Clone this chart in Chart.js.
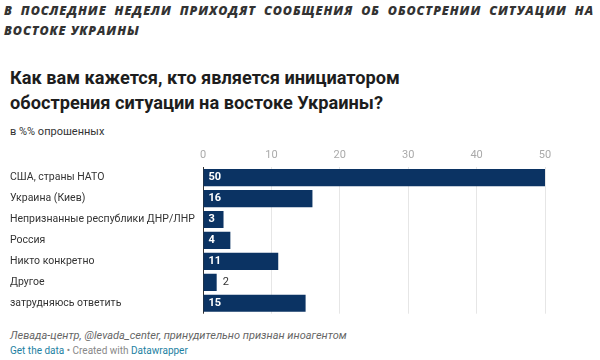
<!DOCTYPE html>
<html>
<head>
<meta charset="utf-8">
<script src="https://cdn.jsdelivr.net/npm/chart.js@4/dist/chart.umd.min.js"></script>
<style>
  body { margin: 0; width: 600px; height: 360px; background: #fff; overflow: hidden; font-family: Roboto, sans-serif; }
  .head { position: absolute; left: 4px; width: 590px; font-family: "Open Sans", sans-serif; font-weight: 800; font-style: italic; font-size: 12.5px; letter-spacing: 0.9px; color: #333; }
  .l1 { top: 2px; text-align: justify; text-align-last: justify; }
  .l2 { top: 22px; }
  .title { position: absolute; left: 10px; top: 65px; font-size: 18.2px; font-weight: bold; line-height: 25px; color: #1d1d1d; }
  .sub { position: absolute; left: 10px; top: 125px; font-size: 11px; color: #333; }
  .chartbox { position: absolute; left: 0; top: 140px; width: 600px; height: 180px; }
  .src { position: absolute; left: 10px; top: 329px; font-size: 11px; font-style: italic; color: #666; }
  .credit { position: absolute; left: 10px; top: 345px; font-size: 10px; color: #888; }
  .credit span { color: #1d81a2; }
</style>
</head>
<body>
<div class="head l1">В ПОСЛЕДНИЕ НЕДЕЛИ ПРИХОДЯТ СООБЩЕНИЯ ОБ ОБОСТРЕНИИ СИТУАЦИИ НА</div>
<div class="head l2">ВОСТОКЕ УКРАИНЫ</div>
<div class="title">Как вам кажется, кто является инициатором<br>обострения ситуации на востоке Украины?</div>
<div class="sub">в %% опрошенных</div>
<div class="chartbox"><canvas id="chart"></canvas></div>
<div class="src">Левада-центр, @levada_center, принудительно признан иноагентом</div>
<div class="credit"><span>Get the data</span> • Created with <span>Datawrapper</span></div>
<script>
// categories and values
const categories = ['США, страны НАТО', 'Украина (Киев)', 'Непризнанные республики ДНР/ЛНР', 'Россия', 'Никто конкретно', 'Другое', 'затрудняюсь ответить'];
const values = [50, 16, 3, 4, 11, 2, 15];
const xTicks = [0, 10, 20, 30, 40, 50];

// value labels: inside the bar in white, outside in grey when the bar is too short
const valueLabels = {
    id: 'valueLabels',
    afterDatasetsDraw(chart) {
        const ctx = chart.ctx;
        const meta = chart.getDatasetMeta(0);
        ctx.save();
        ctx.textBaseline = 'middle';
        meta.data.forEach((bar, i) => {
            const txt = String(values[i]);
            const width = bar.x - bar.base;
            if (width > 18) {
                ctx.font = 'bold 11px Roboto';
                ctx.fillStyle = '#fff';
                ctx.fillText(txt, bar.base + 5, bar.y);
            } else {
                ctx.font = '11px Roboto';
                ctx.fillStyle = '#333';
                ctx.fillText(txt, bar.x + 6, bar.y);
            }
        });
        ctx.restore();
    }
};

const chart = new Chart(document.getElementById('chart'), {
    type: 'bar',
    data: {
        labels: categories,
        datasets: [{
            data: values,
            backgroundColor: '#0b3363',
            categoryPercentage: 1,
            barPercentage: 0.82
        }]
    },
    options: {
        indexAxis: 'y',
        responsive: true,
        maintainAspectRatio: false,
        animation: false,
        layout: { padding: { left: 10, right: 55, top: 4, bottom: 6 } },
        plugins: { legend: { display: false }, tooltip: { enabled: false } },
        scales: {
            x: {
                position: 'top',
                min: 0,
                max: 50,
                afterBuildTicks: (scale) => { scale.ticks = xTicks.map(v => ({ value: v })); },
                ticks: { color: '#aaa', font: { family: 'Roboto', size: 11 }, padding: 5 },
                grid: {
                    drawTicks: false,
                    color: (c) => c.tick && c.tick.value === 0 ? '#333' : '#e6e6e6',
                    lineWidth: 1
                },
                border: { display: false }
            },
            y: {
                afterFit: (scale) => { scale.width = 193; },
                ticks: { crossAlign: 'far', color: '#333', font: { family: 'Roboto', size: 10.5 }, padding: 0 },
                grid: { display: false },
                border: { display: false }
            }
        }
    },
    plugins: [valueLabels]
});
</script>
</body>
</html>
